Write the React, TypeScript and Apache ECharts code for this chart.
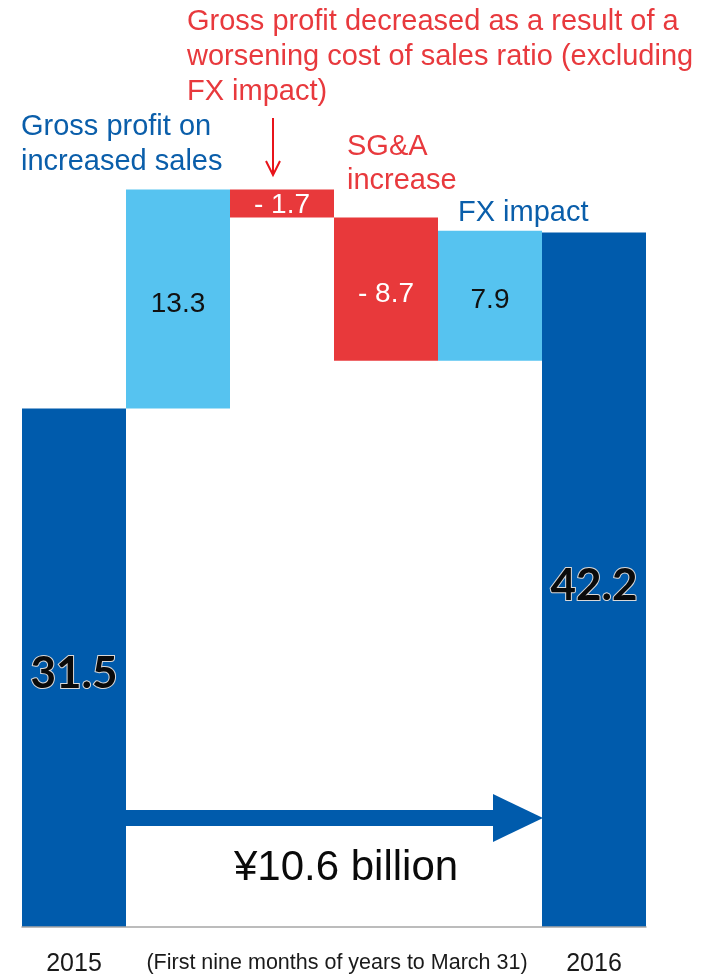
import React, { useEffect, useRef } from 'react';
import * as echarts from 'echarts';

const categories = ['2015', 'Gross profit on increased sales', 'Cost of sales ratio', 'SG&A increase', 'FX impact', '2016'];
const axisLabels = ['2015', '', '', '', '', '2016'];
const startValue = 31.5;
const deltas = [13.3, -1.7, -8.7, 7.9];
const endValue = 42.2;
const valueLabels = ['31.5', '13.3', '- 1.7', '- 8.7', '7.9', '42.2'];
const barColors = ['#005BAC', '#56C3F0', '#E8393B', '#E8393B', '#56C3F0', '#005BAC'];
const labelColors = ['#111', '#111', '#fff', '#fff', '#111', '#111'];
const changeText = '¥10.6 billion';
const periodNote = '(First nine months of years to March 31)';
const redNote = ['Gross profit decreased as a result of a', 'worsening cost of sales ratio (excluding', 'FX impact)'];
const salesNote = ['Gross profit on', 'increased sales'];
const sgaNote = ['SG&A', 'increase'];
const fxNote = 'FX impact';

const FONT = '"Liberation Sans", Arial, sans-serif';
const RED = '#E8393D';
const BLUE = '#0A5EAA';

export default function App() {
  const ref = useRef<HTMLDivElement>(null);
  useEffect(() => {
    if (!ref.current) return;
    const chart = echarts.init(ref.current, null, { renderer: 'svg' });

    const bases: number[] = [0];
    const heights: number[] = [startValue];
    let running = startValue;
    deltas.forEach((d) => {
      if (d >= 0) {
        bases.push(running);
        heights.push(d);
        running += d;
      } else {
        running += d;
        bases.push(running);
        heights.push(-d);
      }
    });
    bases.push(0);
    heights.push(endValue);

    const isBig = (i: number) => i === 0 || i === heights.length - 1;

    chart.setOption({
      animation: false,
      grid: { left: 22, right: 69, top: 104, bottom: 50, containLabel: false },
      xAxis: {
        type: 'category',
        data: categories,
        axisLine: { show: true, lineStyle: { color: '#A6A6A6', width: 1.5 } },
        axisTick: { show: false },
        axisLabel: {
          formatter: (_v: string, i: number) => axisLabels[i],
          interval: 0,
          fontFamily: FONT,
          fontSize: 25,
          color: '#1a1a1a',
          verticalAlign: 'middle',
          margin: 35,
        },
        z: 10,
      },
      yAxis: { type: 'value', min: 0, max: 50, show: false, splitLine: { show: false } },
      series: [
        {
          type: 'bar',
          stack: 'w',
          barCategoryGap: '0%',
          itemStyle: { color: 'transparent' },
          data: bases,
          silent: true,
        },
        {
          type: 'bar',
          stack: 'w',
          barCategoryGap: '0%',
          data: heights.map((h, i) => ({
            value: h,
            itemStyle: { color: barColors[i] },
            label: isBig(i)
              ? {
                  show: true,
                  position: 'inside',
                  offset: [0, 3],
                  formatter: valueLabels[i],
                  fontFamily: 'Lato, "Open Sans", sans-serif',
                  fontWeight: 'bold',
                  fontSize: 44,
                  color: '#0a0a0a',
                  textBorderColor: '#d8d8d8',
                  textBorderWidth: 2,
                }
              : {
                  show: true,
                  position: 'inside',
                  offset: [0, i === 2 ? 0 : 3],
                  formatter: valueLabels[i],
                  fontFamily: FONT,
                  fontSize: 28,
                  color: labelColors[i],
                },
          })),
        },
      ],
    });

    const c0 = chart.convertToPixel({ xAxisIndex: 0 }, categories[0]) as number;
    const c1 = chart.convertToPixel({ xAxisIndex: 0 }, categories[1]) as number;
    const c5 = chart.convertToPixel({ xAxisIndex: 0 }, categories[5]) as number;
    const band = c1 - c0;
    const arrowStart = c0 + band / 2;
    const arrowEnd = c5 - band / 2;
    const arrowY = 818;
    const headLen = 49;

    const textLine = (t: string, x: number, y: number, color: string, size: number, align = 'left') => ({
      type: 'text',
      x,
      y,
      style: { text: t, fill: color, font: `${size}px ${FONT}`, align, verticalAlign: 'middle' },
      z: 20,
    });

    chart.setOption({
      graphic: [
        {
          type: 'rect',
          shape: { x: arrowStart, y: arrowY - 8, width: arrowEnd - headLen - arrowStart + 1, height: 16 },
          style: { fill: '#005BAC' },
          z: 20,
        },
        {
          type: 'polygon',
          shape: { points: [[arrowEnd - headLen, arrowY - 24], [arrowEnd + 1, arrowY], [arrowEnd - headLen, arrowY + 24]] },
          style: { fill: '#005BAC' },
          z: 20,
        },
        textLine(changeText, 346, 865, '#0a0a0a', 42, 'center'),
        textLine(periodNote, 337, 962, '#1a1a1a', 21.5, 'center'),
        ...redNote.map((t, i) => textLine(t, 187, 20 + i * 35, RED, 29)),
        ...salesNote.map((t, i) => textLine(t, 21, 125 + i * 35, BLUE, 29)),
        ...sgaNote.map((t, i) => textLine(t, 347, 145 + i * 34, RED, 29)),
        textLine(fxNote, 458, 211, BLUE, 29),
        {
          type: 'line',
          shape: { x1: 273, y1: 118, x2: 273, y2: 174 },
          style: { stroke: '#E8141B', lineWidth: 2 },
          z: 20,
        },
        {
          type: 'polyline',
          shape: { points: [[266, 161], [273, 175], [280, 161]] },
          style: { stroke: '#E8141B', lineWidth: 2, fill: 'none' },
          z: 20,
        },
      ],
    });

    return () => chart.dispose();
  }, []);

  return <div ref={ref} style={{ position: 'fixed', left: 0, top: 0, width: 715, height: 977 }} />;
}
